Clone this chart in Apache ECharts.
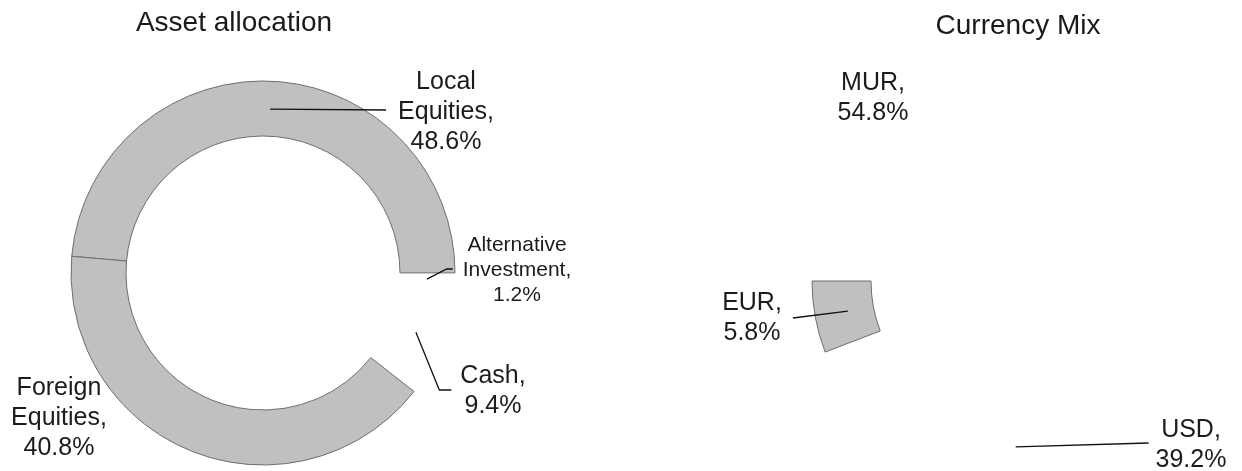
<!DOCTYPE html>
<html>
<head>
<meta charset="utf-8">
<script src="https://cdn.jsdelivr.net/npm/echarts@6/dist/echarts.min.js"></script>
<style>
html,body{margin:0;padding:0;background:#ffffff;}
#chart{width:1242px;height:471px;}
</style>
</head>
<body>
<div id="chart"></div>
<script>
// ---- data ----
const assetCategories = ['Local Equities', 'Alternative Investment', 'Cash', 'Foreign Equities'];
const assetLabelNames = ['Local\nEquities', 'Alternative\nInvestment', 'Cash', 'Foreign\nEquities'];
const assetValues = [48.6, 1.2, 9.4, 40.8];

const currencyCategories = ['MUR', 'USD', 'EUR'];
const currencyValues = [54.8, 39.2, 5.8];

const chartTitles = ['Asset allocation', 'Currency Mix'];

// ---- styles / layout ----
const FONT = '"Liberation Sans", Arial, Helvetica, sans-serif';
const FILL = '#c0c0c0';
const NONE = 'rgba(0,0,0,0)';
const assetFill = [FILL, NONE, NONE, FILL];
const currencyFill = [NONE, NONE, FILL];

// label block centre, leader attach side, gap to text, last horizontal run
const assetLabelLayout = [
  { x: 446, y: 112, side: 'left', gap: 12, run: null, dy: -2, line: true, fs: 25, lh: 30 },
  { x: 517, y: 270, side: 'left', gap: 10, run: 6, dy: -1, line: true, fs: 21, lh: 25 },
  { x: 493, y: 391, side: 'left', gap: 9, run: 12, dy: -1, line: true, fs: 25, lh: 30 },
  { x: 59, y: 418, line: false, fs: 25, lh: 30 }
];
const currencyLabelLayout = [
  { x: 873, y: 98, line: false, fs: 25, lh: 30 },
  { x: 1191, y: 445, side: 'left', gap: 7, run: null, dy: -2, line: true, fs: 25, lh: 30 },
  { x: 752, y: 318, side: 'right', gap: 11, run: null, dy: 0, line: true, fs: 25, lh: 30 }
];

function makeLabelLayout(cfg) {
  return function (p) {
    const c = cfg[p.dataIndex];
    const out = { x: c.x, y: c.y, align: 'center', verticalAlign: 'middle' };
    if (c.line && p.labelLinePoints && p.labelLinePoints.length) {
      const s = p.labelLinePoints[0];
      const w = p.labelRect.width;
      const ly = c.y + (c.dy || 0);
      const ex = c.side === 'left' ? c.x - w / 2 - c.gap : c.x + w / 2 + c.gap;
      const pts = [[s[0], s[1]]];
      if (c.run != null) pts.push([c.side === 'left' ? ex - c.run : ex + c.run, ly]);
      pts.push([ex, ly]);
      out.labelLinePoints = pts;
    }
    return out;
  };
}

function ringData(cats, vals, fills) {
  return cats.map((n, i) => ({
    name: n, value: vals[i],
    itemStyle: {
      color: fills[i],
      borderColor: fills[i] === NONE ? NONE : '#6e6e6e',
      borderWidth: fills[i] === NONE ? 0 : 1
    }
  }));
}

function labelData(cats, vals, names, cfg) {
  return cats.map((n, i) => ({
    name: n, value: vals[i],
    label: { fontSize: cfg[i].fs, lineHeight: cfg[i].lh },
    labelLine: { show: cfg[i].line }
  }));
}

function ringSeries(center, radius, startAngle, data) {
  return {
    type: 'pie', z: 1, center: center, radius: radius, startAngle: startAngle, clockwise: true,
    silent: true, avoidLabelOverlap: false,
    label: { show: false }, labelLine: { show: false },
    emphasis: { disabled: true },
    data: data
  };
}

function labelSeries(center, radius, startAngle, data, names, vals, cfg) {
  return {
    type: 'pie', z: 5, center: center, radius: radius, startAngle: startAngle, clockwise: true,
    silent: true, avoidLabelOverlap: false,
    itemStyle: { color: NONE, borderWidth: 0 },
    label: {
      show: true, position: 'outside', color: '#1c1c1c', fontFamily: FONT,
      formatter: function (p) { return names[p.dataIndex] + ',\n' + vals[p.dataIndex].toFixed(1) + '%'; }
    },
    labelLine: { show: true, length: 0, length2: 0, smooth: false, lineStyle: { color: '#111', width: 1.3 } },
    labelLayout: makeLabelLayout(cfg),
    emphasis: { disabled: true },
    data: data
  };
}

const chart = echarts.init(document.getElementById('chart'), null, { renderer: 'canvas' });
chart.setOption({
  animation: false,
  backgroundColor: '#ffffff',
  title: [
    { text: chartTitles[0], left: 234, top: 9, textAlign: 'center', padding: 0,
      textStyle: { fontFamily: FONT, fontSize: 28, fontWeight: 'normal', color: '#1a1a1a' } },
    { text: chartTitles[1], left: 1018, top: 12, textAlign: 'center', padding: 0,
      textStyle: { fontFamily: FONT, fontSize: 28, fontWeight: 'normal', color: '#1a1a1a' } }
  ],
  tooltip: { show: false },
  series: [
    ringSeries([263, 273], [137, 192], 175, ringData(assetCategories, assetValues, assetFill)),
    labelSeries([263, 273], [163, 164], 175,
      labelData(assetCategories, assetValues, assetLabelNames, assetLabelLayout),
      assetLabelNames, assetValues, assetLabelLayout),
    ringSeries([1011, 281], [140, 199], 180, ringData(currencyCategories, currencyValues, currencyFill)),
    labelSeries([1011, 281], [165, 166], 180,
      labelData(currencyCategories, currencyValues, currencyCategories, currencyLabelLayout),
      currencyCategories, currencyValues, currencyLabelLayout)
  ]
});
</script>
</body>
</html>
